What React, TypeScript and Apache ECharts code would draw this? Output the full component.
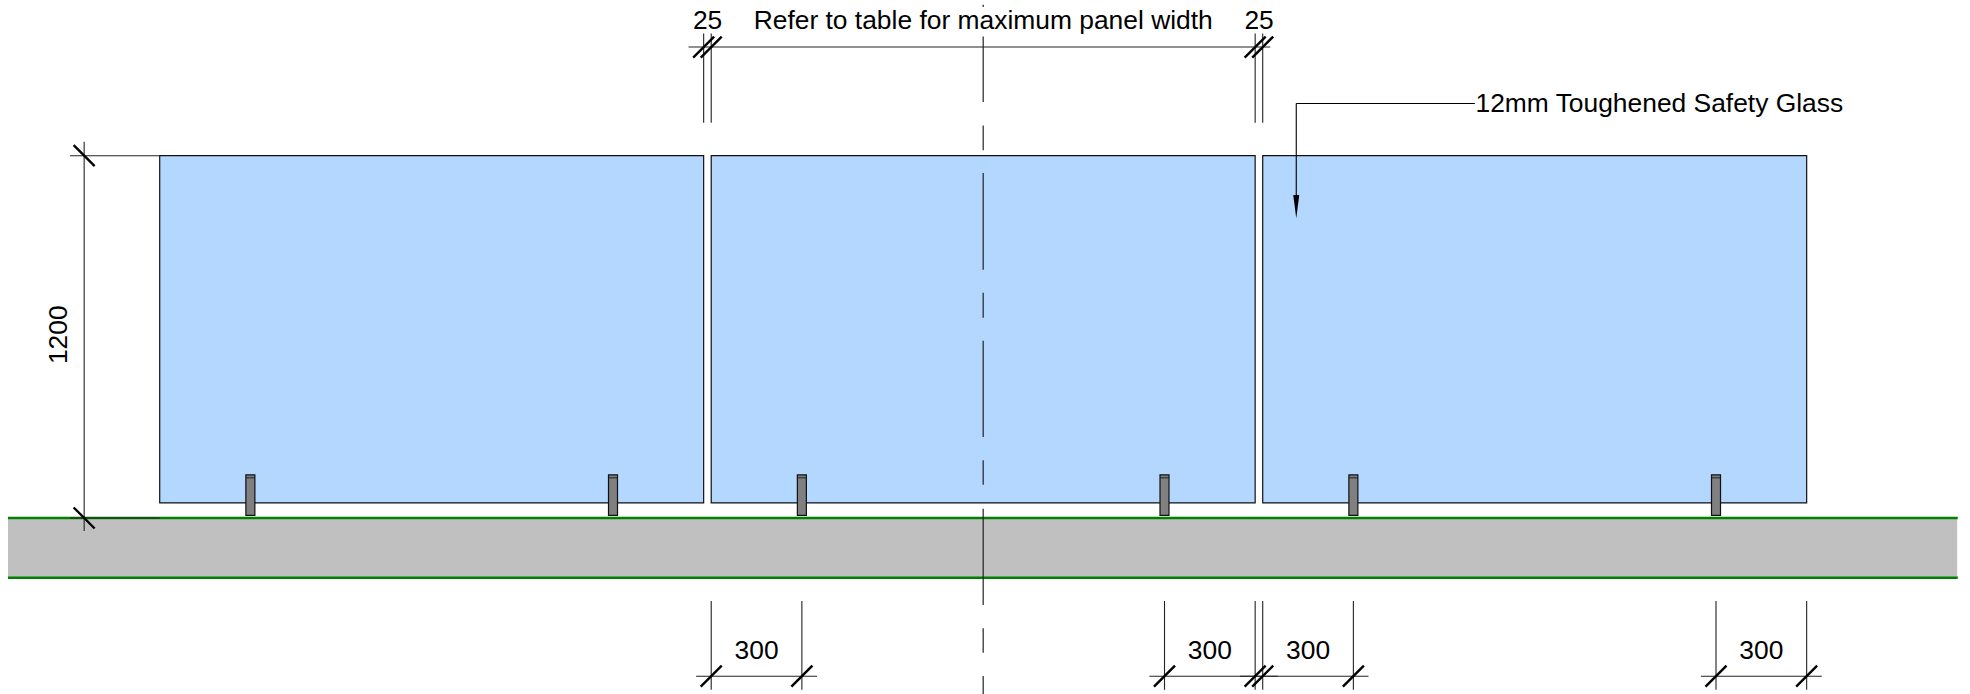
import React, { useEffect, useRef } from "react";
import * as echarts from "echarts";

// All geometry in drawing millimetres. x = 0 at left edge of the first panel, y = 0 at slab top.
const panels = [
  [0, 1800],
  [1825, 3625],
  [3650, 5450],
];
const panelBase = [50];
const panelTop = [1200];
const spigotCentres = [300, 1500, 2125, 3325, 3950, 5150];
const slab = [[-502, 5948, -198, 0]];
const slabEdges = [
  [-502, 0, 5950, 0],
  [-502, -198, 5950, -198],
];
const centreLine = [
  [2725, 1700, 2725, 1693],
  [2725, 1595, 2725, 1378],
  [2725, 1300, 2725, 1218],
  [2725, 1143, 2725, 822],
  [2725, 746, 2725, 663],
  [2725, 587, 2725, 268],
  [2725, 191, 2725, 110],
  [2725, 31, 2725, -288],
  [2725, -365, 2725, -446],
  [2725, -523, 2725, -583],
];
const dimensionLines = [
  // top
  [1750, 1560, 3675, 1560],
  [1800, 1605, 1800, 1309],
  [1825, 1605, 1825, 1309],
  [3625, 1605, 3625, 1309],
  [3650, 1605, 3650, 1309],
  // left
  [-250, 1246, -250, -43],
  [-297, 1200, 0, 1200],
  [-297, 0, 0, 0],
  // bottom
  [1775, -524, 2175, -524],
  [1825, -275, 1825, -569],
  [2125, -275, 2125, -569],
  [3275, -524, 3700, -524],
  [3325, -275, 3325, -569],
  [3625, -275, 3625, -569],
  [3575, -524, 4000, -524],
  [3650, -275, 3650, -569],
  [3950, -275, 3950, -569],
  [5100, -524, 5500, -524],
  [5150, -275, 5150, -569],
  [5450, -275, 5450, -569],
];
const leaderLines = [
  [4352, 1373, 3761, 1373],
  [3761, 1373, 3761, 1070],
];
const leaderArrow = [[3761, 1070, 993]];
const forwardTicks = [
  [1800, 1560],
  [1825, 1560],
  [3625, 1560],
  [3650, 1560],
  [1825, -524],
  [2125, -524],
  [3325, -524],
  [3625, -524],
  [3650, -524],
  [3950, -524],
  [5150, -524],
  [5450, -524],
];
const backTicks = [
  [-250, 1200],
  [-250, 0],
];
const dimensionLabels = [
  ["25", 1813, 1650],
  ["Refer to table for maximum panel width", 2725, 1650],
  ["25", 3638, 1650],
  ["300", 1975, -438],
  ["300", 3475, -438],
  ["300", 3800, -438],
  ["300", 5300, -438],
];
const noteLabels = [["12mm Toughened Safety Glass", 4354, 1375]];
const heightLabels = [["1200", -336, 607]];

const FONT = '26.4px "Liberation Sans", Arial, sans-serif';
const lineItem = (style: any) => (_: any, api: any) => {
  const a = api.coord([api.value(0), api.value(1)]);
  const b = api.coord([api.value(2), api.value(3)]);
  return { type: "line", shape: { x1: a[0], y1: a[1], x2: b[0], y2: b[1] }, style };
};
const tickItem = (dir: number) => (_: any, api: any) => {
  const p = api.coord([api.value(0), api.value(1)]);
  const d = 10.5;
  return {
    type: "line",
    shape: { x1: p[0] - d, y1: p[1] + dir * d, x2: p[0] + d, y2: p[1] - dir * d },
    style: { stroke: "#000", lineWidth: 2.4 },
  };
};
const textItem = (align: string, rotation: number) => (_: any, api: any) => {
  const p = api.coord([api.value(1), api.value(2)]);
  return {
    type: "text",
    x: p[0],
    y: p[1],
    rotation,
    style: {
      text: String(api.value(0)),
      font: FONT,
      fill: "#000",
      align,
      verticalAlign: "middle",
    },
  };
};
const custom = (data: any[], renderItem: any, z: number, extra: any = {}) => ({
  type: "custom",
  coordinateSystem: "cartesian2d",
  data,
  renderItem,
  z,
  clip: false,
  silent: true,
  ...extra,
});
const textDims = { dimensions: [{ name: "t", type: "ordinal" }, "x", "y"], encode: { x: 1, y: 2 } };

export default function App() {
  const ref = useRef<HTMLDivElement>(null);
  useEffect(() => {
    document.body.style.margin = "0";
    const chart = echarts.init(ref.current!, undefined, { renderer: "svg" });
    chart.setOption({
      animation: false,
      backgroundColor: "#ffffff",
      grid: { left: 0, right: 0, top: 0, bottom: 0 },
      xAxis: { type: "value", show: false, min: -528.5, max: 5990.5, scale: true },
      yAxis: { type: "value", show: false, min: -583, max: 1715.8, scale: true },
      series: [
        custom(
          slab,
          (_: any, api: any) => {
            const a = api.coord([api.value(0), api.value(3)]);
            const b = api.coord([api.value(1), api.value(2)]);
            return {
              type: "rect",
              shape: { x: a[0], y: a[1], width: b[0] - a[0], height: b[1] - a[1] },
              style: { fill: "#c0c0c0" },
            };
          },
          1,
        ),
        custom(
          panels,
          (_: any, api: any) => {
            const a = api.coord([api.value(0), panelTop[0]]);
            const b = api.coord([api.value(1), panelBase[0]]);
            return {
              type: "rect",
              shape: { x: a[0], y: a[1], width: b[0] - a[0], height: b[1] - a[1] },
              style: { fill: "#b3d7ff", stroke: "#111", lineWidth: 1.2 },
            };
          },
          2,
        ),
        custom(
          spigotCentres.map((c) => [c]),
          (_: any, api: any) => {
            const a = api.coord([api.value(0), 143]);
            const b = api.coord([api.value(0), 9]);
            const cap = api.coord([api.value(0), 133]);
            const w = 9;
            return {
              type: "group",
              children: [
                {
                  type: "rect",
                  shape: { x: a[0] - w / 2, y: a[1], width: w, height: b[1] - a[1] },
                  style: { fill: "#808080", stroke: "#111", lineWidth: 1.2 },
                },
                {
                  type: "line",
                  shape: { x1: a[0] - w / 2, y1: cap[1], x2: a[0] + w / 2, y2: cap[1] },
                  style: { stroke: "#222", lineWidth: 1 },
                },
              ],
            };
          },
          3,
        ),
        custom(slabEdges, lineItem({ stroke: "#008000", lineWidth: 2.4 }), 4),
        custom(dimensionLines, lineItem({ stroke: "#222", lineWidth: 1.1 }), 5),
        custom(centreLine, lineItem({ stroke: "#222", lineWidth: 1.2 }), 6),
        custom(leaderLines, lineItem({ stroke: "#000", lineWidth: 1.1 }), 6),
        custom(
          leaderArrow,
          (_: any, api: any) => {
            const base = api.coord([api.value(0), api.value(1)]);
            const tip = api.coord([api.value(0), api.value(2)]);
            return {
              type: "polygon",
              shape: { points: [[base[0] - 3, base[1]], [base[0] + 3, base[1]], [tip[0], tip[1]]] },
              style: { fill: "#000" },
            };
          },
          7,
        ),
        custom(forwardTicks, tickItem(1), 7),
        custom(backTicks, tickItem(-1), 7),
        custom(dimensionLabels, textItem("center", 0), 8, textDims),
        custom(noteLabels, textItem("left", 0), 8, textDims),
        custom(heightLabels, textItem("center", Math.PI / 2), 8, textDims),
      ],
    });
    return () => chart.dispose();
  }, []);
  return <div ref={ref} style={{ width: 1970, height: 694 }} />;
}
